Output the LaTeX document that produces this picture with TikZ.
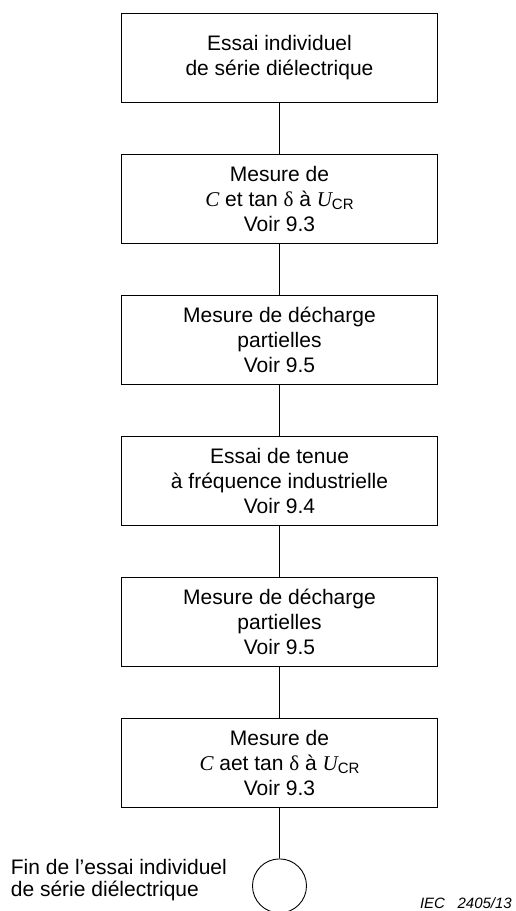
\documentclass[tikz,border=0pt]{standalone}
\usepackage{fontspec}
\setmainfont{Liberation Sans}
\newfontfamily\formfont{Liberation Serif}
\usetikzlibrary{positioning}
\newcommand{\grC}{{\formfont\itshape C}}
\newcommand{\grd}{{\formfont δ}}
\newcommand{\Ucr}{{\formfont\itshape U}\raisebox{-0.3ex}{\fontsize{15}{15}\selectfont CR}}
\tikzset{
  font=\fontsize{21}{25}\selectfont,
  essai/.style ={draw, line width=0.9pt, minimum height=89pt, minimum width=316pt, align=center, inner sep=0pt},
  fin/.style   ={draw, line width=0.9pt, circle, minimum size=54pt, inner sep=0pt},
  lien/.style  ={draw, line width=0.9pt},
  lbl/.style   ={align=left, font=\fontsize{21}{22}\selectfont, inner sep=0pt},
  ref/.style   ={font=\fontsize{15}{15}\selectfont\itshape, inner sep=0pt},
}
\begin{document}
\begin{tikzpicture}[node distance=51pt]
  \useasboundingbox (0,0) rectangle (515pt,-911pt);
  \node[essai] (e1) at (279.5pt,-58pt) {Essai individuel\\ de série diélectrique};
  \node[essai, below=of e1] (e2) {Mesure de\\ \grC{} et tan \grd{} à \Ucr\\ Voir 9.3};
  \node[essai, below=of e2] (e3) {Mesure de décharge\\ partielles\\ Voir 9.5};
  \node[essai, below=of e3] (e4) {Essai de tenue\\ à fréquence industrielle\\ Voir 9.4};
  \node[essai, below=of e4] (e5) {Mesure de décharge\\ partielles\\ Voir 9.5};
  \node[essai, below=of e5] (e6) {Mesure de\\ \grC{} aet tan \grd{} à \Ucr\\ Voir 9.3};
  \node[fin, below=of e6] (fin) {};
  \node[lbl, left=25pt of fin, yshift=6pt] (finlbl) {Fin de l’essai individuel\\ de série diélectrique};
  \node[ref, anchor=base east] (iec) at (512pt,-908pt) {IEC\ \ \ 2405/13};
  \draw[lien] (e1) -- (e2);
  \draw[lien] (e2) -- (e3);
  \draw[lien] (e3) -- (e4);
  \draw[lien] (e4) -- (e5);
  \draw[lien] (e5) -- (e6);
  \draw[lien] (e6) -- (fin);
\end{tikzpicture}
\end{document}
